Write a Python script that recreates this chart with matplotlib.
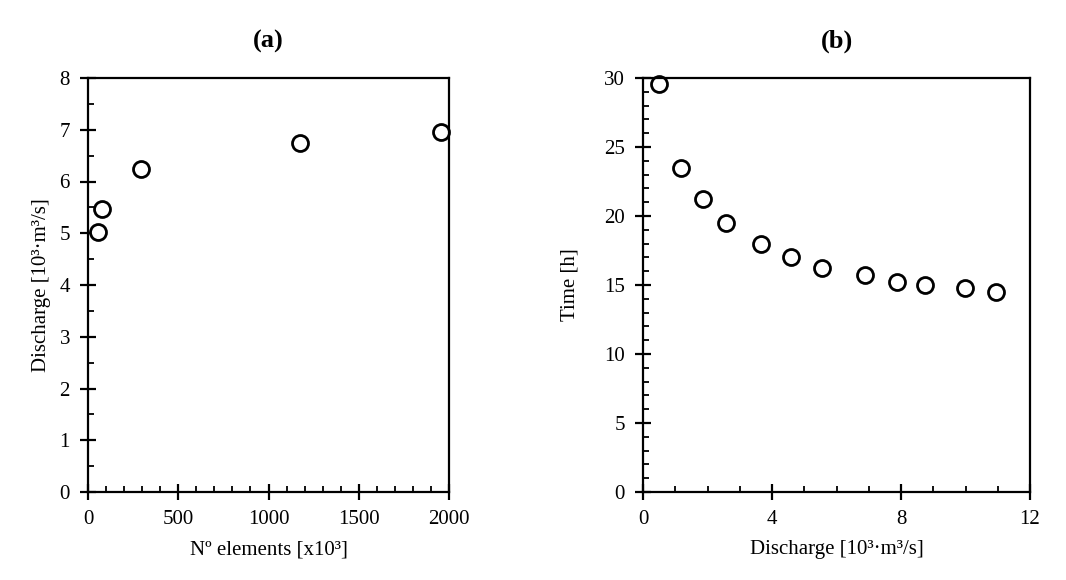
import numpy as np
import matplotlib
matplotlib.use("Agg")
import matplotlib.pyplot as plt
from matplotlib.ticker import MultipleLocator

plt.rcParams['font.family'] = ['Liberation Serif', 'DejaVu Serif']
plt.rcParams['font.size'] = 15

# Panel (a): mesh sensitivity
n_elements = [53, 75, 295, 1174, 1958]
discharge_a = [5.02, 5.46, 6.25, 6.75, 6.95]

# Panel (b): time vs discharge
discharge_b = [0.5, 1.18, 1.85, 2.57, 3.66, 4.58, 5.56, 6.87, 7.87, 8.75, 9.99, 10.96]
time_h = [29.55, 23.5, 21.25, 19.5, 18.0, 17.0, 16.25, 15.75, 15.25, 15.0, 14.75, 14.5]

fig = plt.figure(figsize=(10.66, 5.8), dpi=100)
ax1 = fig.add_axes([88 / 1066, 1 - 492 / 580, (449 - 88) / 1066, (492 - 78) / 580])
ax2 = fig.add_axes([643 / 1066, 1 - 492 / 580, (1030 - 643) / 1066, (492 - 78) / 580])

def style_axis(ax):
    for s in ax.spines.values():
        s.set_linewidth(1.6)
    ax.tick_params(which='major', direction='inout', length=12, width=1.6, pad=7)
    ax.tick_params(which='minor', direction='in', length=4.5, width=1.3)

ax1.plot(n_elements, discharge_a, 'o', ms=11.5, mfc='white', mec='black', mew=2.0, clip_on=False)
ax1.set_xlim(0, 2000)
ax1.set_ylim(0, 8)
ax1.xaxis.set_major_locator(MultipleLocator(500))
ax1.xaxis.set_minor_locator(MultipleLocator(100))
ax1.yaxis.set_major_locator(MultipleLocator(1))
ax1.yaxis.set_minor_locator(MultipleLocator(0.5))
ax1.set_xlabel("Nº elements [x10³]", labelpad=8)
ax1.set_ylabel("Discharge [10³·m³/s]", labelpad=6)
ax1.set_title("(a)", fontweight='bold', fontsize=19, pad=22)
style_axis(ax1)

ax2.plot(discharge_b, time_h, 'o', ms=11.5, mfc='white', mec='black', mew=2.0, clip_on=False)
ax2.set_xlim(0, 12)
ax2.set_ylim(0, 30)
ax2.xaxis.set_major_locator(MultipleLocator(4))
ax2.xaxis.set_minor_locator(MultipleLocator(1))
ax2.yaxis.set_major_locator(MultipleLocator(5))
ax2.yaxis.set_minor_locator(MultipleLocator(1))
ax2.set_xlabel("Discharge [10³·m³/s]", labelpad=8)
ax2.set_ylabel("Time [h]", labelpad=18)
ax2.set_title("(b)", fontweight='bold', fontsize=19, pad=22)
style_axis(ax2)

fig.savefig("out.png", dpi=100, facecolor='white')
